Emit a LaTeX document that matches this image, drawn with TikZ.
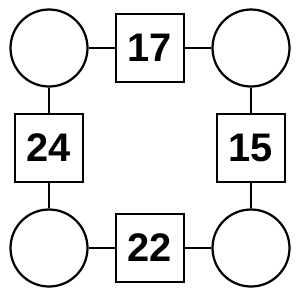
\documentclass[tikz,border=0pt]{standalone}
\usepackage{fontspec}
\setmainfont{Liberation Sans}
\usetikzlibrary{positioning}

\begin{document}
\begin{tikzpicture}[
  x=0.03cm, y=-0.03cm, line width=1.9pt,
  ring/.style={draw, circle, minimum size=77*0.03cm, inner sep=0pt},
  numbox/.style={draw, rectangle, minimum size=68*0.03cm, inner sep=0pt,
    font=\fontsize{34}{36}\selectfont\bfseries},
]
  \useasboundingbox (0,0) rectangle (300,300);

  % corner circles
  \node[ring] (tl) at (49,48)  {};
  \node[ring] (tr) at (251,48) {};
  \node[ring] (bl) at (49,248) {};
  \node[ring] (br) at (251,248) {};

  % numbered squares
  \node[numbox] (top)    at (150,48)  {17};
  \node[numbox] (left)   at (49,148)  {24};
  \node[numbox] (right)  at (251,148) {15};
  \node[numbox] (bottom) at (150,248) {22};

  % connectors
  \draw (tl)--(top)--(tr);
  \draw (tl)--(left)--(bl);
  \draw (tr)--(right)--(br);
  \draw (bl)--(bottom)--(br);
\end{tikzpicture}
\end{document}
